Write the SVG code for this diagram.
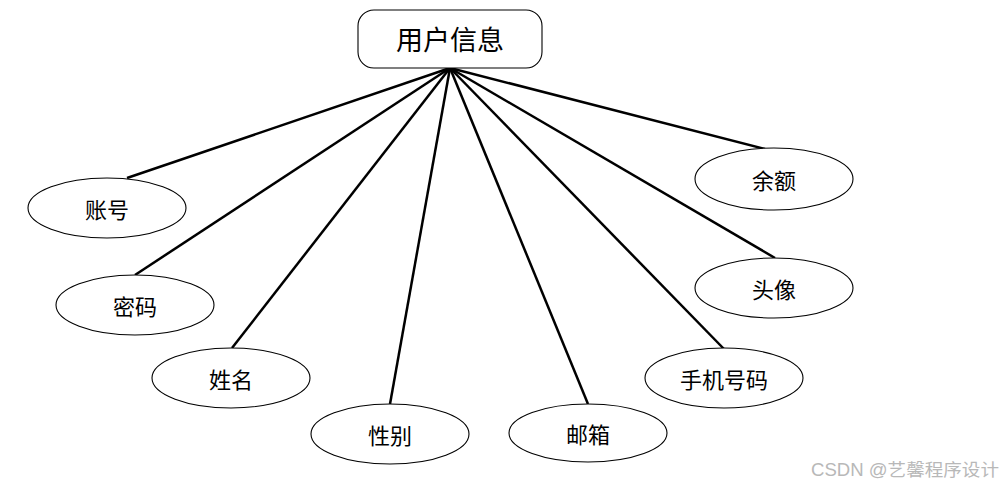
<svg xmlns="http://www.w3.org/2000/svg" width="1005" height="489" viewBox="0 0 1005 489">
<style>
.ell{fill:#fff;stroke:#000;stroke-width:1.1}
.t{font-family:"Noto Sans CJK SC","Liberation Sans",sans-serif;font-size:22px;text-anchor:middle;dominant-baseline:central;fill:#000}
.c line{stroke:#000;stroke-width:2.5}
.wm{font-family:"Liberation Sans","Noto Sans CJK SC",sans-serif;font-size:17.5px;fill:#b8b8b8}
</style>
<rect width="1005" height="489" fill="#fff"/>
<g class="c" id="connectors">
<line x1="450" y1="68" x2="127" y2="178"/>
<line x1="450" y1="68" x2="135" y2="275"/>
<line x1="450" y1="68" x2="232" y2="348"/>
<line x1="450" y1="68" x2="390" y2="404"/>
<line x1="450" y1="68" x2="588" y2="404"/>
<line x1="450" y1="68" x2="724" y2="349"/>
<line x1="450" y1="68" x2="775" y2="258"/>
<line x1="450" y1="68" x2="765" y2="149"/>
</g>
<g id="user-info">
<rect x="358" y="10" width="184" height="58" rx="16" fill="#fff" stroke="#000" stroke-width="1.1"/>
<text class="t" x="450" y="38" style="font-size:27px">用户信息</text>
</g>
<g id="zhanghao"><ellipse class="ell" cx="107" cy="208" rx="79" ry="30"/><text class="t" x="107" y="208">账号</text></g>
<g id="mima"><ellipse class="ell" cx="135" cy="305" rx="79" ry="30"/><text class="t" x="135" y="305">密码</text></g>
<g id="xingming"><ellipse class="ell" cx="231" cy="378" rx="79" ry="30"/><text class="t" x="231" y="378">姓名</text></g>
<g id="xingbie"><ellipse class="ell" cx="390" cy="434" rx="79" ry="30"/><text class="t" x="390" y="434">性别</text></g>
<g id="youxiang"><ellipse class="ell" cx="588" cy="433" rx="79" ry="29"/><text class="t" x="588" y="433">邮箱</text></g>
<g id="shouji"><ellipse class="ell" cx="724" cy="378" rx="79" ry="30"/><text class="t" x="724" y="378">手机号码</text></g>
<g id="touxiang"><ellipse class="ell" cx="774" cy="288" rx="79" ry="30"/><text class="t" x="774" y="288">头像</text></g>
<g id="yue"><ellipse class="ell" cx="774" cy="179" rx="79" ry="31"/><text class="t" x="774" y="179">余额</text></g>
<text class="wm" x="811" y="476" textLength="188" lengthAdjust="spacingAndGlyphs">CSDN @艺馨程序设计</text>
</svg>
